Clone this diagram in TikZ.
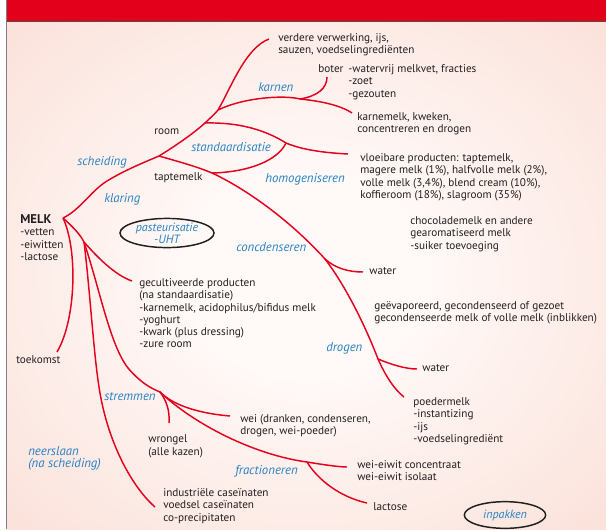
\documentclass[tikz,border=0pt]{standalone}
\usepackage{fontspec}
\setmainfont{PT Sans}
\usetikzlibrary{shapes.geometric}
\definecolor{bandred}{RGB}{226,0,26}
\definecolor{pinkbg}{RGB}{249,214,204}
\definecolor{lightbg}{RGB}{255,249,247}
\definecolor{branchred}{RGB}{228,0,30}
\definecolor{lblblue}{RGB}{40,130,195}
\definecolor{txtgray}{RGB}{35,31,32}
\pgfdeclareradialshading{bgshade}{\pgfpoint{0bp}{0bp}}{color(0bp)=(lightbg); color(10bp)=(lightbg); color(48bp)=(pinkbg); color(50bp)=(pinkbg)}
\begin{document}
\begin{tikzpicture}[x=0.75pt,y=-0.75pt,
  txt/.style={font=\fontsize{8.4}{9.2}\selectfont, text=txtgray, anchor=base west, inner sep=0pt, align=left},
  lbl/.style={font=\fontsize{9.6}{9.3}\selectfont\itshape, text=lblblue, anchor=base west, inner sep=0pt, align=left},
  br/.style={draw=branchred, line width=1.1pt},
  oval/.style={draw=txtgray, line width=1.1pt, ellipse, inner sep=0pt, font=\fontsize{9}{9}\selectfont\itshape, text=lblblue, align=center}]

\useasboundingbox (0,0) rectangle (606,529);
\fill[white] (0,0) rectangle (606,529);
\shade[shading=bgshade] (7,22) rectangle (606,529);
\fill[bandred] (7,0) rectangle (606,21);
\draw[gray!60!black, line width=0.8pt] (7,21.5) -- (606,21.5);
\draw[gray, line width=1.4pt] (6.5,0) -- (6.5,529);

% text nodes (multi-line nodes are placed by the baseline of their last line)
\node[txt] (verdere) at (278,53.3) {verdere verwerking, ijs,\\sauzen, voedselingrediënten};
\node[txt] (boter) at (318,72.5) {boter};
\node[txt] (boterl) at (348,97) {-watervrij melkvet, fracties\\-zoet\\-gezouten};
\node[lbl] (karnen) at (258,91.5) {karnen};
\node[txt] (karnemelk) at (357,132.8) {karnemelk, kweken,\\concentreren en drogen};
\node[txt] (room) at (154,134.5) {room};
\node[lbl] (standaard) at (191,151.5) {standaardisatie};
\node[lbl] (scheiding) at (77,165.5) {scheiding};
\node[txt] (tapte) at (154,180.5) {taptemelk};
\node[lbl] (homog) at (265,182.5) {homogeniseren};
\node[lbl] (klaring) at (104,202.5) {klaring};
\node[txt, font=\fontsize{9.5}{10}\selectfont\bfseries] (melk) at (20,223) {MELK};
\node[txt] (melkl) at (20,260.3) {-vetten\\-eiwitten\\-lactose};
\node[oval, minimum width=70.5pt, minimum height=21pt] (past) at (167,233) {pasteurisatie\\-UHT};
\node[lbl] (concd) at (236,251.5) {concdenseren};
\node[txt] (vloei) at (360,198.3) {vloeibare producten: taptemelk,\\magere melk (1\%), halfvolle melk (2\%),\\volle melk (3,4\%), blend cream (10\%),\\koffieroom (18\%), slagroom (35\%)};
\node[txt] (choco) at (410,249) {chocolademelk en andere\\gearomatiseerd melk\\-suiker toevoeging};
\node[txt] (water1) at (369,274.5) {water};
\node[txt] (gecult) at (139,347.8) {gecultiveerde producten\\(na standaardisatie)\\-karnemelk, acidophilus/bifidus melk\\-yoghurt\\-kwark (plus dressing)\\-zure room};
\node[txt] (geevap) at (374,321.8) {geëvaporeerd, gecondenseerd of gezoet\\gecondenseerde melk of volle melk (inblikken)};
\node[txt] (toekomst) at (16,363.5) {toekomst};
\node[lbl] (drogen) at (326,351.5) {drogen};
\node[txt] (water2) at (422,371.5) {water};
\node[lbl] (stremmen) at (104,400.5) {stremmen};
\node[txt] (poeder) at (413,442.3) {poedermelk\\-instantizing\\-ijs\\-voedselingrediënt};
\node[txt] (wei) at (240,434.8) {wei (dranken, condenseren,\\drogen, wei-poeder)};
\node[txt] (wrongel) at (148,455) {wrongel\\(alle kazen)};
\node[lbl] (neerslaan) at (28,467.4) {neerslaan\\(na scheiding)};
\node[lbl] (fraction) at (235,474.5) {fractioneren};
\node[txt] (weieiwit) at (357,480.8) {wei-eiwit concentraat\\wei-eiwit isolaat};
\node[txt] (industr) at (163,521) {industriële caseïnaten\\voedsel caseïnaten\\co-precipitaten};
\node[txt] (lactose) at (373,510.5) {lactose};
\node[oval, minimum width=61pt, minimum height=20pt] (inpak) at (505,515) {inpakken};

% junctions and free ends
\coordinate (J1) at (63,218);
\coordinate (J2) at (84,242);
\coordinate (S) at (159,156);
\coordinate (R1) at (205,123);
\coordinate (R2) at (218,110);
\coordinate (Vend) at (269,39);
\coordinate (K1) at (300,99);
\coordinate (Bend) at (327,77);
\coordinate (Kend) at (352,113);
\coordinate (T1) at (212,173);
\coordinate (SM) at (286,143);
\coordinate (Vlend) at (348,154);
\coordinate (W1) at (325,259);
\coordinate (W1end) at (363,272);
\coordinate (W2) at (378,359);
\coordinate (W2end) at (417,369);
\coordinate (Pend) at (404,397);
\coordinate (Tend) at (57,352);
\coordinate (Gend) at (132,281);
\coordinate (Iend) at (155,507);
\coordinate (ST) at (160,392);
\coordinate (WRend) at (169,423);
\coordinate (WEend) at (230,416);
\coordinate (FR) at (307,462);
\coordinate (FRend) at (347,467);
\coordinate (Lend) at (367,503);

% upper tree
\draw[br] (J1) .. controls (80,210) and (92,190) .. (107,181) .. controls (125,170) and (145,162) .. (S);
\draw[br] (S) .. controls (180,143) and (195,132) .. (R1) .. controls (210,118) and (214,115) .. (R2) .. controls (230,90) and (245,48) .. (Vend);
\draw[br] (R2) .. controls (245,97) and (285,95) .. (K1) .. controls (320,101) and (340,105) .. (Kend);
\draw[br] (K1) .. controls (318,96) and (327,88) .. (Bend);
\draw[br] (R1) .. controls (245,122) and (270,133) .. (SM) .. controls (305,151) and (330,153) .. (Vlend);
\draw[br] (T1) .. controls (250,172) and (278,160) .. (SM);
\draw[br] (S) .. controls (180,162) and (198,167) .. (T1) .. controls (240,186) and (285,215) .. (W1) .. controls (345,285) and (365,325) .. (W2) .. controls (386,377) and (395,390) .. (Pend);
\draw[br] (W1) .. controls (335,268) and (348,272) .. (W1end);
\draw[br] (W2) .. controls (390,364) and (405,369) .. (W2end);

% lower tree
\draw[br] (J1) .. controls (78,250) and (76,320) .. (Tend);
\draw[br] (J1) .. controls (72,226) and (80,234) .. (J2);
\draw[br] (J2) .. controls (98,258) and (115,275) .. (Gend);
\draw[br] (J2) .. controls (90,290) and (94,360) .. (100,393) .. controls (108,440) and (130,485) .. (Iend);
\draw[br] (J2) .. controls (100,290) and (110,345) .. (128,368) .. controls (140,382) and (150,388) .. (ST);
\draw[br] (ST) .. controls (166,400) and (170,410) .. (WRend);
\draw[br] (ST) .. controls (172,404) and (195,413) .. (WEend);
\draw[br] (ST) .. controls (195,425) and (255,455) .. (FR) .. controls (325,465) and (340,467) .. (FRend);
\draw[br] (FR) .. controls (318,480) and (340,497) .. (Lend);
\end{tikzpicture}
\end{document}
